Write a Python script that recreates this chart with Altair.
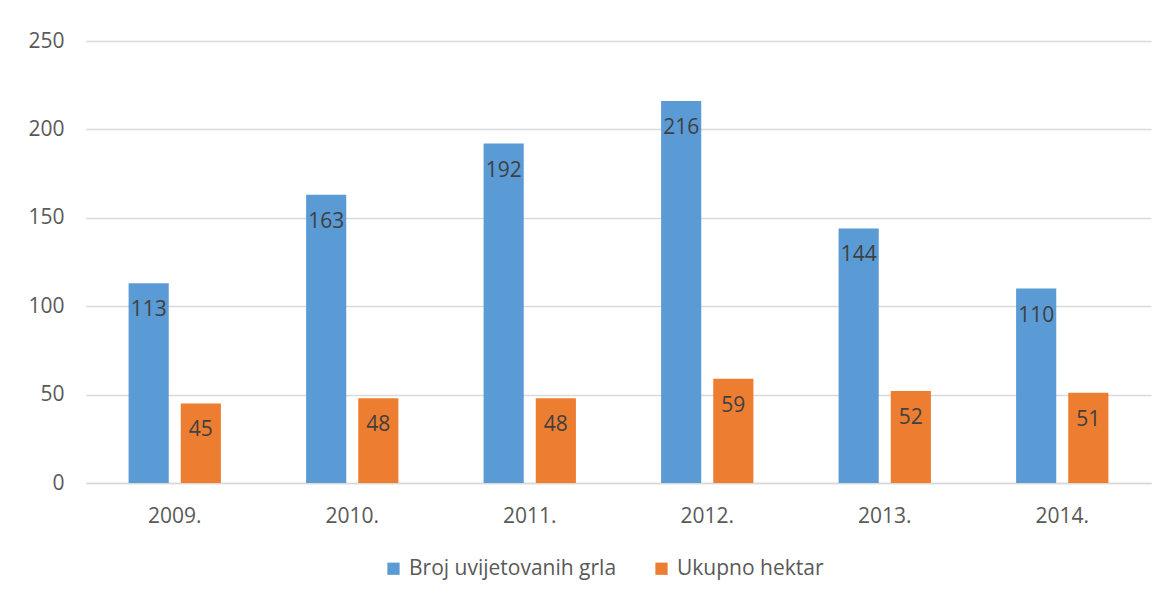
import altair as alt
import pandas as pd

years = ["2009.", "2010.", "2011.", "2012.", "2013.", "2014."]
series = ["Broj uvijetovanih grla", "Ukupno hektar"]
grla = [113, 163, 192, 216, 144, 110]
hektar = [45, 48, 48, 59, 52, 51]
colors = ["#5B9BD5", "#ED7D31"]

rows = []
for i, y in enumerate(years):
    rows.append({"year": y, "series": series[0], "value": grla[i]})
    rows.append({"year": y, "series": series[1], "value": hektar[i]})
df = pd.DataFrame(rows)

FONT = "Open Sans"
FS = 21

x = alt.X("year:N", sort=years, title=None,
          scale=alt.Scale(paddingInner=0.48, paddingOuter=0.24),
          axis=alt.Axis(labelAngle=0, labelFontSize=FS, labelColor="#595959",
                        labelFont=FONT, ticks=False, domainColor="#D9D9D9",
                        domainWidth=1.5, labelPadding=22))
xo = alt.XOffset("series:N", sort=series,
                 scale=alt.Scale(paddingInner=0.23, paddingOuter=0))
yenc = alt.Y("value:Q", title=None,
             scale=alt.Scale(domain=[0, 250], nice=False),
             axis=alt.Axis(values=[0, 50, 100, 150, 200, 250], labelFontSize=FS,
                           labelColor="#595959", labelFont=FONT, ticks=False,
                           domain=False, gridColor="#D9D9D9", gridWidth=1.5,
                           labelPadding=22))

bars = alt.Chart(df).mark_bar().encode(
    x=x, xOffset=xo, y=yenc,
    color=alt.Color("series:N", sort=series,
                    scale=alt.Scale(domain=series, range=colors),
                    legend=alt.Legend(title=None, orient="none", direction="horizontal",
                                      legendX=297, legendY=517,
                                      symbolType="square", symbolSize=150,
                                      labelFontSize=FS, labelColor="#595959",
                                      labelFont=FONT, columnPadding=34,
                                      labelOffset=5, labelLimit=400,
                                      symbolStrokeWidth=0)),
)

labels = alt.Chart(df).mark_text(baseline="top", dy=16, fontSize=FS,
                                 font=FONT, color="#404040").encode(
    x=x, xOffset=xo, y=yenc, text=alt.Text("value:Q"),
)

chart = alt.layer(bars, labels).properties(
    width=1065, height=442,
    autosize=alt.AutoSizeParams(type="none"),
    padding={"left": 78, "top": 33, "right": 10, "bottom": 100},
    background="white",
).configure_view(stroke=None)

chart.save("out.html", embed_options={"renderer": "svg", "actions": False})
